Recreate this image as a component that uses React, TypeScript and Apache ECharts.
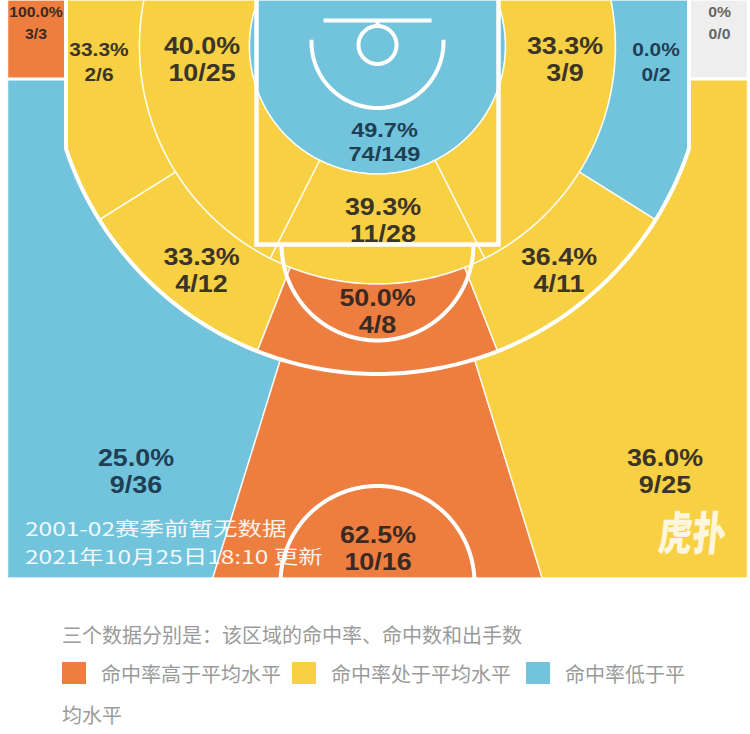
import React, { useEffect, useRef } from 'react';
import * as echarts from 'echarts';

// ---------------- data ----------------
const zoneNames = [
  'leftCorner3', 'leftBaselineMid', 'leftShortMid', 'restrictedArea', 'paint',
  'rightShortMid', 'rightBaselineMid', 'rightCorner3', 'leftWingMid', 'centerMid',
  'rightWingMid', 'leftWing3', 'center3', 'rightWing3',
];
const zoneMade = [3, 2, 10, 74, 11, 3, 0, 0, 4, 4, 4, 9, 10, 9];
const zoneAttempts = [3, 6, 25, 149, 28, 9, 2, 0, 12, 8, 11, 36, 16, 25];
const zoneLevels = ['high', 'avg', 'avg', 'low', 'avg', 'avg', 'low', 'none', 'avg', 'high', 'avg', 'low', 'high', 'avg'];
const legendLevels = ['high', 'avg', 'low'];
const legendLabels = ['命中率高于平均水平', '命中率处于平均水平', '命中率低于平均水平'];
const noteText = '三个数据分别是：该区域的命中率、命中数和出手数';
const footNotes = ['2001-02赛季前暂无数据', '2021年10月25日18:10 更新'];
const watermarkText = '虎扑';

// ---------------- styles / layout ----------------
const COLORS: Record<string, string> = { high: '#EE7E3F', avg: '#F8D043', low: '#72C4DC', none: '#EEEEEE' };
const TEXT_COLORS: Record<string, string> = { high: '#3b2a22', avg: '#3b3428', low: '#1f3f55', none: '#666666' };
const NUM_FONT = '"Liberation Sans", Arial, sans-serif';
const CJK_FONT = '"Noto Sans CJK SC", "Noto Sans", sans-serif';

// court geometry (px units, origin at basket, y downward)
const LEFT = -370, RIGHT = 370, TOP = -46, BOTTOM = 532;
const R1 = 128, R2 = 238, R3 = 328, CX = 311.5;
const A_SM = 26.8, A_BL = 58, A_WM = 21.5, A_C3 = 17.2;
const CORNER_Y = 33;
const DEG = Math.PI / 180;
const YJ = Math.sqrt(R3 * R3 - CX * CX);
const AJ = Math.atan2(CX, YJ) / DEG;

// label anchors (court coords) and [fontSize, line spacing, scaleX]
const labelPos = [
  [-341.5, -23], [-278.5, 16], [-175.5, 13.5], [7, 95.5], [5.5, 174],
  [187.5, 13.5], [278.5, 16], [342, -23], [-176, 224], [0, 265],
  [181.5, 224], [-241.5, 425.5], [0.5, 502], [287.5, 425.5],
];
const labelFont = [
  [15, 22, 1.05], [19, 25, 1.1], [24, 27, 1.12], [21, 24, 1.12], [24, 27, 1.12],
  [24, 27, 1.12], [19, 25, 1.1], [15, 22, 1.05], [24, 27, 1.12], [24, 27, 1.12],
  [24, 27, 1.12], [24, 27, 1.12], [24, 27, 1.12], [24, 27, 1.12],
];

type P = number[];
function polar(r: number, a: number): P {
  return [r * Math.sin(a * DEG), r * Math.cos(a * DEG)];
}
function arc(r: number, a1: number, a2: number, cx = 0, cy = 0): P[] {
  const n = Math.max(2, Math.ceil(Math.abs(a2 - a1)));
  const pts: P[] = [];
  for (let i = 0; i <= n; i++) {
    const p = polar(r, a1 + ((a2 - a1) * i) / n);
    pts.push([p[0] + cx, p[1] + cy]);
  }
  return pts;
}
function three(a: number): P {
  const s = Math.sin(a * DEG), c = Math.cos(a * DEG);
  if (c > 0 && Math.abs(R3 * s) <= CX) return [R3 * s, R3 * c];
  return [Math.sign(s) * CX, (CX * c) / Math.abs(s)];
}
function threeArc(a1: number, a2: number): P[] {
  const n = Math.max(2, Math.ceil(Math.abs(a2 - a1)));
  const angles: number[] = [];
  for (let i = 0; i <= n; i++) angles.push(a1 + ((a2 - a1) * i) / n);
  [AJ, -AJ].forEach((j) => { if ((j - a1) * (j - a2) < 0) angles.push(j); });
  angles.sort((p, q) => (a2 > a1 ? p - q : q - p));
  return angles.map(three);
}
function clipHalf(poly: P[], k: number, v: number, greater: boolean): P[] {
  const out: P[] = [];
  for (let i = 0; i < poly.length; i++) {
    const a = poly[i], b = poly[(i + 1) % poly.length];
    const ina = greater ? a[k] >= v : a[k] <= v;
    const inb = greater ? b[k] >= v : b[k] <= v;
    if (ina) out.push(a);
    if (ina !== inb) {
      const t = (v - a[k]) / (b[k] - a[k]);
      out.push([a[0] + t * (b[0] - a[0]), a[1] + t * (b[1] - a[1])]);
    }
  }
  return out;
}
function clipCourt(poly: P[]): P[] {
  let p = clipHalf(poly, 0, LEFT, true);
  p = clipHalf(p, 0, RIGHT, false);
  p = clipHalf(p, 1, TOP, true);
  p = clipHalf(p, 1, BOTTOM, false);
  return p;
}
const mirror = (poly: P[]): P[] => poly.map(([x, y]) => [-x, y]);

const tanC3 = Math.tan(A_C3 * DEG);
const aCorner = -Math.atan2(CX, CORNER_Y) / DEG;

const shLC3: P[] = [[LEFT, TOP], [-CX, TOP], [-CX, CORNER_Y], [LEFT, CORNER_Y]];
const shLBM: P[] = [...threeArc(-A_BL, -150), ...arc(R2, -150, -A_BL)];
const shLSM: P[] = [...arc(R2, -A_SM, -180), ...arc(R1, -180, -A_SM)];
const shRA: P[] = arc(R1, -180, 180);
const shPaint: P[] = [...arc(R2, -A_SM, A_SM), ...arc(R1, A_SM, -A_SM)];
const shLWM: P[] = [...threeArc(-A_WM, -A_BL), ...arc(R2, -A_BL, -A_WM)];
const shCM: P[] = [...arc(R3, -A_WM, A_WM), ...arc(R2, A_WM, -A_WM)];
const shLW3: P[] = [[LEFT, CORNER_Y], ...threeArc(aCorner, -A_C3), [-BOTTOM * tanC3, BOTTOM], [LEFT, BOTTOM]];
const shC3: P[] = [...arc(R3, -A_C3, A_C3), [BOTTOM * tanC3, BOTTOM], [-BOTTOM * tanC3, BOTTOM]];

const zoneShapes: P[][] = [
  shLC3, shLBM, shLSM, shRA, shPaint,
  mirror(shLSM), mirror(shLBM), mirror(shLC3), shLWM, shCM,
  mirror(shLWM), shLW3, shC3, mirror(shLW3),
].map(clipCourt);

function pctText(i: number): string {
  const a = zoneAttempts[i];
  if (!a) return '0%';
  return ((zoneMade[i] / a) * 100).toFixed(1) + '%';
}

// court line polylines (court coords) with widths
const PAINT_HW = 121, FT_Y = 198.5, FT_R = 96;
const ccY = 537, ccR = 97;
const ccA = Math.acos((BOTTOM - ccY) / ccR) / DEG;
const courtLines: { pts: P[]; w: number }[] = [
  { pts: [[-PAINT_HW, TOP], [-PAINT_HW, FT_Y], [PAINT_HW, FT_Y], [PAINT_HW, TOP]], w: 4.5 },
  { pts: arc(FT_R, -90, 90, 0, FT_Y), w: 4 },
  { pts: [[-CX, TOP], ...arc(R3, -AJ, AJ), [CX, TOP]], w: 4 },
  { pts: [[LEFT, CORNER_Y], [-CX, CORNER_Y]], w: 3 },
  { pts: [[CX, CORNER_Y], [RIGHT, CORNER_Y]], w: 3 },
  { pts: [[-54, -25.5], [54, -25.5]], w: 4 },
  { pts: [[0, -25.5], [0, -20]], w: 4 },
  { pts: arc(19, 0, 360, 0, -1), w: 4 },
  { pts: arc(66, -92, 92, 0, -4), w: 4 },
  { pts: arc(ccR, ccA, 360 - ccA, 0, ccY), w: 4 },
];

export default function App() {
  const ref = useRef<HTMLDivElement>(null);
  useEffect(() => {
    if (!ref.current) return;
    const chart = echarts.init(ref.current, undefined, { renderer: 'svg' });

    const renderZone = (params: any, api: any) => {
      const i = params.dataIndex;
      const lvl = zoneLevels[i];
      const pts = zoneShapes[i].map((p) => api.coord(p));
      const c = api.coord(labelPos[i]);
      const [fs, sp, sx] = labelFont[i];
      const lines = [pctText(i), zoneMade[i] + '/' + zoneAttempts[i]];
      return {
        type: 'group',
        children: [
          { type: 'polygon', shape: { points: pts }, style: { fill: COLORS[lvl], stroke: 'rgba(255,255,255,0.85)', lineWidth: 1.5 } },
          ...lines.map((t, k) => ({
            type: 'text', x: c[0], y: c[1] + (k - 0.5) * sp, scaleX: sx,
            style: {
              text: t, fill: TEXT_COLORS[lvl], fontSize: fs, fontWeight: 'bold',
              fontFamily: NUM_FONT, align: 'center', verticalAlign: 'middle',
            },
          })),
        ],
      };
    };

    const renderLines = (_params: any, api: any) => ({
      type: 'group',
      children: courtLines.map((l) => ({
        type: 'polyline',
        shape: { points: l.pts.map((p) => api.coord(p)) },
        style: { stroke: '#ffffff', lineWidth: l.w, fill: null },
      })),
    });

    const graphic: any[] = [];
    footNotes.forEach((t, k) => {
      graphic.push({
        type: 'text', x: 25, y: 528 + k * 28, z: 20, scaleX: 1.29,
        style: { text: t, fill: 'rgba(255,255,255,0.92)', fontSize: 19, fontFamily: CJK_FONT, verticalAlign: 'middle' },
      });
    });
    graphic.push({
      type: 'text', x: 693, y: 530, z: 20, scaleY: 1.35, skewX: -0.1,
      style: { text: watermarkText, fill: 'rgba(255,255,255,0.82)', fontSize: 34, fontWeight: 900, fontFamily: CJK_FONT, align: 'center', verticalAlign: 'middle' },
    });
    graphic.push({
      type: 'text', x: 62, y: 634, z: 20,
      style: { text: noteText, fill: '#9a9a9a', fontSize: 20, fontFamily: CJK_FONT, verticalAlign: 'middle' },
    });
    const sqX = [62, 292, 526];
    legendLevels.forEach((lvl, k) => {
      graphic.push({ type: 'rect', z: 20, shape: { x: sqX[k], y: 662, width: 24, height: 22 }, style: { fill: COLORS[lvl] } });
      const label = legendLabels[k];
      const first = k === 2 ? label.slice(0, 6) : label;
      graphic.push({
        type: 'text', x: sqX[k] + 39, y: 673, z: 20,
        style: { text: first, fill: '#9a9a9a', fontSize: 20, fontFamily: CJK_FONT, verticalAlign: 'middle' },
      });
      if (k === 2) {
        graphic.push({
          type: 'text', x: 62, y: 714, z: 20,
          style: { text: label.slice(6), fill: '#9a9a9a', fontSize: 20, fontFamily: CJK_FONT, verticalAlign: 'middle' },
        });
      }
    });

    chart.setOption({
      animation: false,
      backgroundColor: '#ffffff',
      grid: { left: 7.5, top: 0, width: 740, height: 578 },
      xAxis: { type: 'value', min: LEFT, max: RIGHT, show: false },
      yAxis: { type: 'value', min: TOP, max: BOTTOM, inverse: true, show: false },
      series: [
        {
          type: 'custom', coordinateSystem: 'cartesian2d', silent: true, z: 1,
          data: zoneNames.map((n) => ({ name: n, value: [0, 0] })),
          encode: { x: 0, y: 1 },
          renderItem: renderZone,
        },
        {
          type: 'custom', coordinateSystem: 'cartesian2d', silent: true, z: 3,
          data: [{ value: [0, 0] }],
          encode: { x: 0, y: 1 },
          renderItem: renderLines,
        },
      ],
      graphic,
    });
    return () => chart.dispose();
  }, []);
  return <div ref={ref} style={{ position: 'absolute', left: 0, top: 0, width: 750, height: 734 }} />;
}
